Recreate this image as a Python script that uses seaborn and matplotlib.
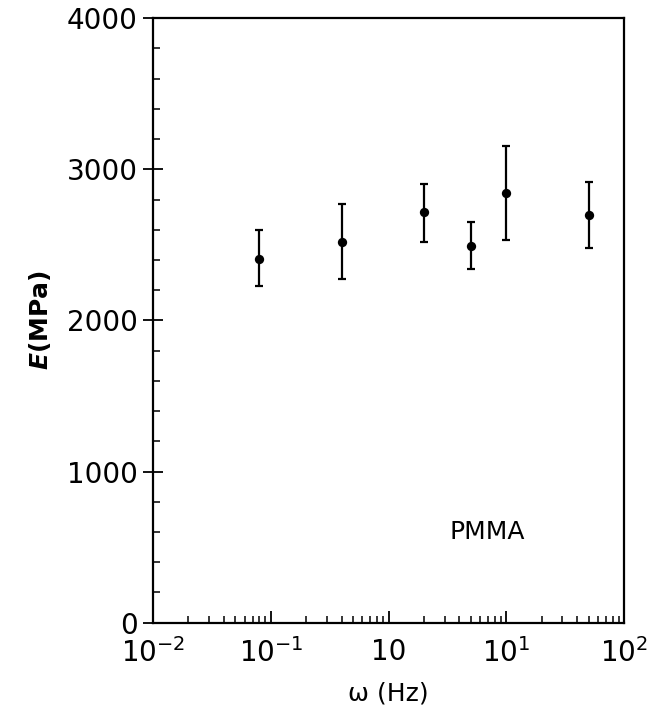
import numpy as np
import pandas as pd
import matplotlib
matplotlib.use("Agg")
import matplotlib.pyplot as plt
import seaborn as sns
from matplotlib.ticker import FixedLocator, FixedFormatter, LogLocator, NullFormatter, MultipleLocator

# data
freq_hz = [0.08, 0.4, 2.0, 5.0, 10.0, 50.0]
modulus_mpa = [2410, 2520, 2715, 2495, 2845, 2700]
err_low = [2225, 2275, 2520, 2340, 2535, 2480]
err_high = [2600, 2770, 2900, 2655, 3155, 2915]
xtick_vals = [1e-2, 1e-1, 1e0, 1e1, 1e2]
xtick_labels = ["10$^{-2}$", "10$^{-1}$", "10", "10$^{1}$", "10$^{2}$"]
ytick_vals = [0, 1000, 2000, 3000, 4000]

df = pd.DataFrame({"freq": freq_hz, "E": modulus_mpa,
                   "lo": err_low, "hi": err_high})

sns.set_style("ticks")
plt.rcParams["font.family"] = ["DejaVu Sans"]
plt.rcParams["mathtext.default"] = "regular"
plt.rcParams["text.color"] = "black"
plt.rcParams["axes.labelcolor"] = "black"
plt.rcParams["xtick.color"] = "black"
plt.rcParams["ytick.color"] = "black"

fig = plt.figure(figsize=(6.53, 7.11), dpi=100)
ax = fig.add_axes([0.2343, 0.1242, 0.7213, 0.8501])

yerr = np.vstack([df["E"] - df["lo"], df["hi"] - df["E"]])
ax.errorbar(df["freq"], df["E"], yerr=yerr, fmt="none", ecolor="black",
            elinewidth=1.6, capsize=2.8, capthick=1.6, zorder=2)
sns.scatterplot(data=df, x="freq", y="E", color="black", s=45,
                edgecolor="black", linewidth=0, ax=ax, zorder=3)

ax.set_xscale("log")
ax.set_xlim(1e-2, 1e2)
ax.set_ylim(0, 4000)

ax.xaxis.set_major_locator(FixedLocator(xtick_vals))
ax.xaxis.set_major_formatter(FixedFormatter(xtick_labels))
ax.xaxis.set_minor_locator(LogLocator(base=10, subs=np.arange(2, 10)))
ax.xaxis.set_minor_formatter(NullFormatter())
ax.yaxis.set_major_locator(FixedLocator(ytick_vals))
ax.yaxis.set_minor_locator(MultipleLocator(200))

ax.tick_params(axis="x", which="major", direction="in", length=9, width=1.3,
               labelsize=20, pad=11)
ax.tick_params(axis="x", which="minor", direction="in", length=5, width=1.1)
ax.tick_params(axis="y", which="major", direction="inout", length=14, width=1.3,
               labelsize=20, pad=4)
ax.tick_params(axis="y", which="minor", direction="in", length=5, width=1.1)

for s in ax.spines.values():
    s.set_visible(True)
    s.set_linewidth(1.6)
    s.set_color("black")

ax.set_xlabel("ω (Hz)", fontsize=18, labelpad=10)
ax.set_ylabel("$\\mathbfit{E}$(MPa)", fontsize=18, fontweight="bold", labelpad=10)
ax.text(3.3, 600, "PMMA", fontsize=18, va="center", ha="left")

fig.savefig("out.png", dpi=100)
